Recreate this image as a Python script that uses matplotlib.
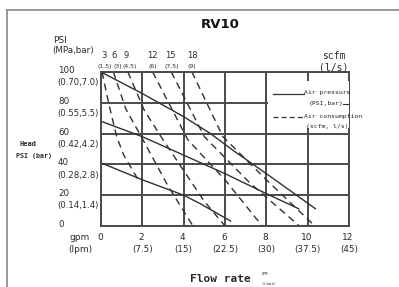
import matplotlib
matplotlib.use("Agg")
import matplotlib.pyplot as plt
from matplotlib import font_manager as fm
from matplotlib.lines import Line2D
from matplotlib.patches import Rectangle
from matplotlib.transforms import blended_transform_factory

names = {f.name for f in fm.fontManager.ttflist}
NARROW = 'Liberation Sans Narrow' if 'Liberation Sans Narrow' in names else 'DejaVu Sans'

# ---------------- data ----------------
gpm_ticks = [0, 2, 4, 6, 8, 10, 12]
lpm_labels = ["", "(7.5)", "(15)", "(22.5)", "(30)", "(37.5)", "(45)"]
psi_ticks = [0, 20, 40, 60, 80, 100]
bar_labels = ["", "(0.14,1.4)", "(0.28,2.8)", "(0.42,4.2)", "(0.55,5.5)", "(0.70,7.0)"]

# air pressure curves (solid)
p100_gpm = [0, 2, 4, 5.3, 6.4, 8, 10.4]
p100_psi = [100, 86, 71, 60, 49, 34, 11]
p70_gpm = [0, 2, 4, 6, 8, 9.6]
p70_psi = [68, 58, 46, 34, 21, 11]
p40_gpm = [0, 2, 4, 4.8, 6.3]
p40_psi = [41, 30, 20, 14.5, 3]

# air consumption curves (dashed)
scfm_labels = ["3", "6", "9", "12", "15", "18"]
ls_labels = ["(1.5)", "(3)", "(4.5)", "(6)", "(7.5)", "(9)"]
c3_gpm = [0.05, 0.4, 0.76, 1.1, 1.8]
c3_psi = [100, 78, 58, 46, 30]
c6_gpm = [0.6, 1.2, 2.03, 3.2, 4.45]
c6_psi = [100, 76, 56, 27, 0]
c9_gpm = [1.3, 2.1, 3.0, 5.0, 6.0]
c9_psi = [100, 75, 56, 16, 0]
c12_gpm = [2.5, 4.2, 6.0, 7.8]
c12_psi = [100, 56, 30, 0]
c15_gpm = [3.4, 5.0, 7.2, 9.6]
c15_psi = [100, 58, 28, 0]
c18_gpm = [4.4, 5.9, 8.0, 10.35]
c18_psi = [100, 58, 30, 0]

# ---------------- figure ----------------
W, H = 399, 287
fig = plt.figure(figsize=(W / 100, H / 100), dpi=100)
fig.patch.set_facecolor("white")

def fx(px):
    return px / W

def fy(py):
    return 1 - py / H

# outer frame (top and left edges of a drawing border)
fig.add_artist(Line2D([fx(7), 1.0], [fy(10), fy(10)], color="#888888", lw=1.2))
fig.add_artist(Line2D([fx(7), fx(7)], [fy(10), 0.0], color="#888888", lw=1.2))

ax = fig.add_axes([fx(101), fy(226), fx(349) - fx(101), fy(72) - fy(226)])
ax.set_xlim(0, 12)
ax.set_ylim(0, 100)
ax.set_xticks(gpm_ticks)
ax.set_yticks(psi_ticks)
ax.tick_params(length=0, labelbottom=False, labelleft=False)
ax.grid(True, color="#4a4a4a", lw=1.4)
ax.set_axisbelow(True)
for s in ax.spines.values():
    s.set_color("#4a4a4a")
    s.set_linewidth(1.4)

LC = "#303030"
for gx, gy in [(p100_gpm, p100_psi), (p70_gpm, p70_psi), (p40_gpm, p40_psi)]:
    ax.plot(gx, gy, color=LC, lw=1.0, solid_capstyle="butt")
for gx, gy in [(c3_gpm, c3_psi), (c6_gpm, c6_psi), (c9_gpm, c9_psi),
               (c12_gpm, c12_psi), (c15_gpm, c15_psi), (c18_gpm, c18_psi)]:
    ax.plot(gx, gy, color=LC, lw=1.0, dashes=(5, 3.5))

# legend box (white area over grid)
ax.add_patch(Rectangle((fx(268), fy(128)), fx(349) - fx(268), fy(81) - fy(128),
                       transform=fig.transFigure, facecolor="white", edgecolor="none",
                       zorder=5))
fig.add_artist(Line2D([fx(273), fx(304)], [fy(94), fy(94)], color=LC, lw=0.9))
fig.add_artist(Line2D([fx(273), fx(304)], [fy(117), fy(117)], color=LC, lw=0.9,
                      dashes=(4, 2.5)))
fig.add_artist(Line2D([fx(343), fx(348)], [fy(104), fy(104)], color=LC, lw=0.8))
lf = dict(family=["DejaVu Sans Mono"], fontsize=4.6, color="#222222", va="center", ha="left")
fig.text(fx(304), fy(92.5), "Air pressure", **lf)
fig.text(fx(309), fy(103.5), "(PSI,bar)", **lf)
fig.text(fx(304), fy(116.5), "Air consumption", **lf)
fig.text(fx(306), fy(126.5), "(scfm, l/s)", **lf)

TF = [NARROW, "DejaVu Sans"]
TC = "#2a2a2a"
ytrans = blended_transform_factory(fig.transFigure, ax.transData)
# y tick labels
for v, lab in zip(psi_ticks, bar_labels):
    ax.text(fx(58), v + 1.0, str(v), transform=ytrans, ha="left", va="center",
            family=TF, fontsize=6.3, color=TC)
    if lab:
        ax.text(fx(57), v - 7.0, lab, transform=ytrans, ha="left", va="center",
                family=TF, fontsize=6.1, color=TC)
# x tick labels
for v, lab in zip(gpm_ticks, lpm_labels):
    ax.text(v - 0.05, -7.5, str(v), transform=ax.transData, ha="center", va="center",
            family=TF, fontsize=6.5, color=TC, clip_on=False)
    if lab:
        ax.text(v, -15.0, lab, transform=ax.transData, ha="center", va="center",
                family=TF, fontsize=6.3, color=TC, clip_on=False)

# top scfm labels placed near curve starts
starts = [c3_gpm[0], c6_gpm[0], c9_gpm[0], c12_gpm[0], c15_gpm[0], c18_gpm[0]]
num_offs = [0.1, 0.03, -0.09, 0.0, -0.05, 0.0]
par_offs = [0.15, 0.22, 0.1, 0.0, 0.0, 0.0]
for s, o1, o2, a, b in zip(starts, num_offs, par_offs, scfm_labels, ls_labels):
    ax.text(s + o1, 110.5, a, ha="center", va="center", family=TF, fontsize=6.0,
            color=TC, clip_on=False)
    ax.text(s + o2, 103.8, b, ha="center", va="center", family=TF, fontsize=4.4,
            color=TC, clip_on=False)

# axis titles
fig.text(fx(53), fy(41), "PSI", family=TF, fontsize=6.5, color=TC, va="center", ha="left")
fig.text(fx(52), fy(51), "(MPa,bar)", family=TF, fontsize=6.3, color=TC, va="center",
         ha="left")
fig.text(fx(20), fy(144), "Head", family=["DejaVu Sans Mono"], fontsize=5, color=TC,
         va="center", ha="left", weight="bold")
fig.text(fx(16), fy(156), "PSI (bar)", family=["DejaVu Sans Mono"], fontsize=4.8,
         color=TC, va="center", ha="left", weight="bold")
fig.text(fx(334), fy(56), "scfm", family=["DejaVu Sans Mono"], fontsize=7, color=TC,
         va="center", ha="center")
fig.text(fx(334), fy(67), "(l/s)", family=["DejaVu Sans Mono"], fontsize=7, color=TC,
         va="center", ha="center")
fig.text(fx(70), fy(238), "gpm", family=TF, fontsize=6.5, color=TC, va="center", ha="left")
fig.text(fx(68), fy(249), "(lpm)", family=TF, fontsize=6.5, color=TC, va="center",
         ha="left")
fig.text(fx(220), fy(279), "Flow rate", family=["DejaVu Sans Mono"], fontsize=8,
         weight="bold", color=TC, va="center", ha="center")
fig.text(fx(262), fy(274), "GPM", family=["DejaVu Sans Mono"], fontsize=2.6, color=TC,
         va="center", ha="left")
fig.text(fx(261), fy(284), "(l/min)", family=["DejaVu Sans Mono"], fontsize=2.6,
         color=TC, va="center", ha="left")
fig.text(fx(220), fy(24), "RV10", family=[NARROW, "DejaVu Sans"], fontsize=9.5,
         weight="bold", color="#111111", va="center", ha="center")

fig.savefig("out.png", dpi=100, facecolor="white")
